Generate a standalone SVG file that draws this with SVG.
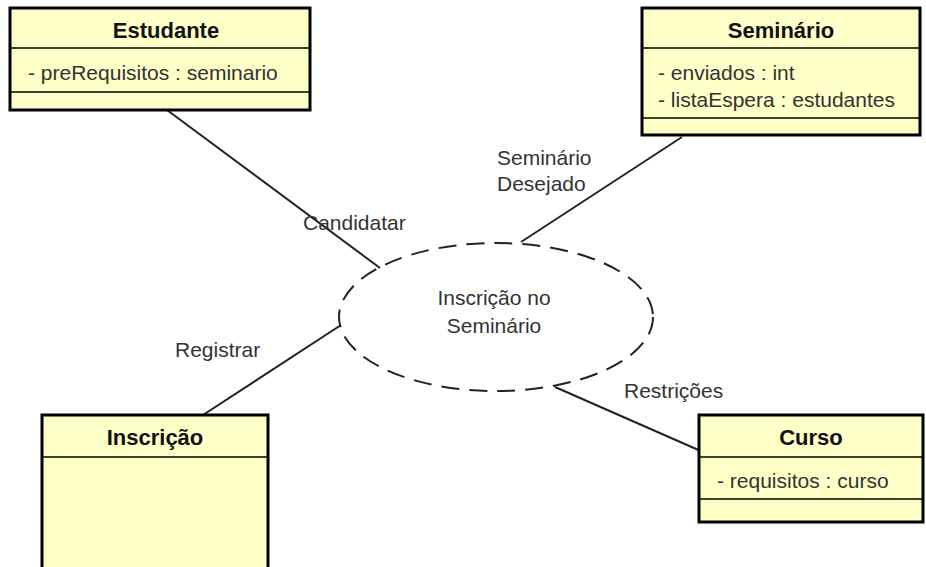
<svg xmlns="http://www.w3.org/2000/svg" width="926" height="567" viewBox="0 0 926 567">
<style>
.box{fill:#FFFFC8;stroke:#000;stroke-width:3}
.div{stroke:#000;stroke-width:1.5}
.t{font-family:"Liberation Sans",Arial,sans-serif;font-size:21px;fill:#333}
.h{font-family:"Liberation Sans",Arial,sans-serif;font-size:22px;font-weight:bold;fill:#111;text-anchor:middle}
.c{stroke:#222;stroke-width:2;fill:none}
</style>
<rect width="926" height="567" fill="#fff"/>
<g id="connectors">
<line class="c" x1="167" y1="110" x2="380" y2="268"/>
<line class="c" x1="682" y1="137" x2="521" y2="242"/>
<line class="c" x1="203" y1="415" x2="341" y2="325"/>
<line class="c" x1="555" y1="387" x2="703" y2="452"/>
</g>
<g id="labels">
<text class="t" x="303" y="230">Candidatar</text>
<text class="t" x="497" y="165">Seminário</text>
<text class="t" x="497" y="191">Desejado</text>
<text class="t" x="175" y="357">Registrar</text>
<text class="t" x="624" y="398">Restrições</text>
</g>
<g id="usecase">
<ellipse cx="496" cy="317" rx="157" ry="74" fill="none" stroke="#222" stroke-width="2" stroke-dasharray="18 10"/>
<text class="t" x="494" y="305" text-anchor="middle">Inscrição no</text>
<text class="t" x="494" y="333" text-anchor="middle">Seminário</text>
</g>
<g id="estudante">
<rect class="box" x="10" y="8" width="300" height="102"/>
<line class="div" x1="10" y1="48" x2="310" y2="48"/>
<line class="div" x1="10" y1="92" x2="310" y2="92"/>
<text class="h" x="166" y="38">Estudante</text>
<text class="t" x="28" y="80">- preRequisitos : seminario</text>
</g>
<g id="seminario">
<rect class="box" x="642" y="8" width="278" height="127"/>
<line class="div" x1="642" y1="48" x2="920" y2="48"/>
<line class="div" x1="642" y1="118" x2="920" y2="118"/>
<text class="h" x="781" y="38">Seminário</text>
<text class="t" x="658" y="80">- enviados : int</text>
<text class="t" x="658" y="107">- listaEspera : estudantes</text>
</g>
<g id="inscricao">
<rect class="box" x="42" y="415" width="226" height="160"/>
<line class="div" x1="42" y1="457" x2="268" y2="457"/>
<text class="h" x="155" y="445">Inscrição</text>
</g>
<g id="curso">
<rect class="box" x="699" y="415" width="224" height="107"/>
<line class="div" x1="699" y1="457" x2="923" y2="457"/>
<line class="div" x1="699" y1="499" x2="923" y2="499"/>
<text class="h" x="811" y="445">Curso</text>
<text class="t" x="717" y="488">- requisitos : curso</text>
</g>
</svg>
